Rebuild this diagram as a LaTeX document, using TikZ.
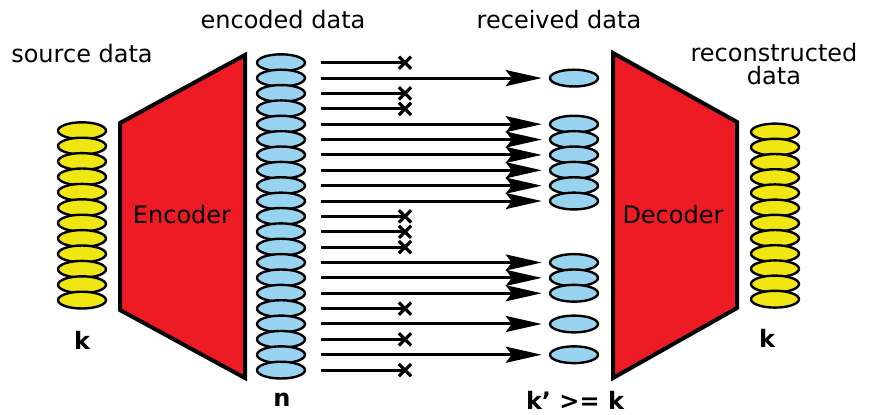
\documentclass[tikz,border=0pt]{standalone}
\usepackage{fontspec}
\setmainfont{DejaVu Sans}
\usetikzlibrary{arrows.meta, shapes.geometric, shapes.misc}
\definecolor{srcyellow}{RGB}{240,230,20}
\definecolor{pktblue}{RGB}{152,212,240}
\definecolor{coderred}{RGB}{237,28,36}
\tikzstyle{srcpkt} = [ellipse, draw=black, line width=1.2pt, fill=srcyellow, minimum width=24pt, minimum height=8.4pt, inner sep=0pt]
\tikzstyle{encpkt} = [srcpkt, fill=pktblue]
\tikzstyle{codec} = [draw=black, line width=2pt, fill=coderred]
\tikzstyle{txt} = [font=\fontsize{12}{14}\selectfont, align=center]
\tikzstyle{sizetxt} = [font=\fontsize{12}{14}\selectfont\bfseries]
\tikzstyle{arrow} = [line width=1.5pt, -{Stealth[length=18pt, width=8pt, inset=3pt]}, shorten <=7.5pt, shorten >=3.5pt]
\tikzstyle{dropline} = [line width=1.5pt, shorten <=7.5pt]
\tikzstyle{lost} = [cross out, draw=black, line width=1.6pt, minimum size=4.5pt, inner sep=0pt]

\begin{document}
\begin{tikzpicture}[x=0.5pt, y=-0.5pt]
\useasboundingbox (0,0) rectangle (874,414);

% source data
\foreach \i in {1,...,12}
  \node[srcpkt] (src\i) at (82, {130.7+(\i-1)*15.4}) {};
\node[txt] (srclabel) at (82,54) {source data};
\node[sizetxt] (ksrc) at (82,340) {k};

% encoder
\draw[codec] (120,123) -- (245,55) -- (245,378) -- (120,310) -- cycle;
\node[txt] (encoder) at (182,215) {Encoder};

% encoded data
\foreach \i in {1,...,21}
  \node[encpkt] (enc\i) at (281, {62.7+(\i-1)*15.37}) {};
\node[txt] (enclabel) at (283,20) {encoded data};
\node[sizetxt] (n) at (282,400) {n};

% received packets
\foreach \i in {2,5,6,7,8,9,10,14,15,16,18,20} {
  \node[encpkt] (recv\i) at (574, {62.7+(\i-1)*15.37}) {};
  \draw[arrow] (enc\i) -- (recv\i);
}
% lost packets
\foreach \i in {1,3,4,11,12,13,17,19,21} {
  \node[lost] (lost\i) at (405, {62.7+(\i-1)*15.37}) {};
  \draw[dropline] (enc\i) -- (lost\i.center);
}
\node[txt] (recvlabel) at (559,20) {received data};
\node[sizetxt] (kprime) at (575,400) {k' >= k};

% decoder
\draw[codec] (613,53) -- (737,122) -- (737,308) -- (613,378) -- cycle;
\node[txt] (decoder) at (673,215) {Decoder};

% reconstructed data
\foreach \i in {1,...,12}
  \node[srcpkt] (out\i) at (775, {132+(\i-1)*15.2}) {};
\node[txt, font=\fontsize{12}{11.5}\selectfont] (outlabel) at (774,64) {reconstructed\\data};
\node[sizetxt] (kout) at (767,338) {k};

\end{tikzpicture}
\end{document}
